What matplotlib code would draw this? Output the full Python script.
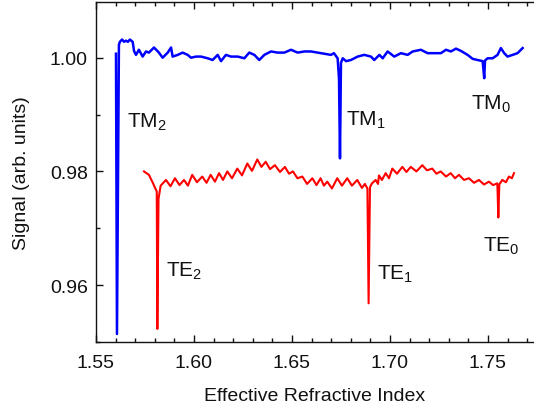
import matplotlib
matplotlib.use("Agg")
import matplotlib.pyplot as plt
from matplotlib.ticker import MultipleLocator

plt.rcParams['font.family'] = ['Liberation Sans', 'DejaVu Sans']
plt.rcParams['mathtext.fontset'] = 'custom'
plt.rcParams['mathtext.rm'] = 'Liberation Sans'
plt.rcParams['mathtext.it'] = 'Liberation Sans'
plt.rcParams['mathtext.default'] = 'regular'

# TM (blue) spectrum
tm_x = [1.5602, 1.5607, 1.5617, 1.5622, 1.5633, 1.5643, 1.5653, 1.5663, 1.5673, 1.5687,
        1.5694, 1.5704, 1.5719, 1.5738, 1.5755, 1.5770, 1.5796, 1.5821, 1.5840, 1.5866,
        1.5883, 1.5891, 1.5917, 1.5942, 1.5968, 1.5985, 1.6010, 1.6036, 1.6070, 1.6095,
        1.6121, 1.6138, 1.6163, 1.6189, 1.6223, 1.6257, 1.6282, 1.6308, 1.6333, 1.6359,
        1.6393, 1.6427, 1.6461, 1.6495, 1.6529, 1.6563, 1.6597, 1.6631, 1.6648, 1.6699,
        1.6714, 1.6733, 1.6740, 1.6745, 1.6750, 1.6759, 1.6776, 1.6801, 1.6835, 1.6869,
        1.6903, 1.6920, 1.6946, 1.6963, 1.6988, 1.7022, 1.7056, 1.7090, 1.7116, 1.7158,
        1.7192, 1.7226, 1.7260, 1.7286, 1.7311, 1.7337, 1.7362, 1.7396, 1.7422, 1.7447,
        1.7473, 1.7481, 1.7485, 1.7498, 1.7524, 1.7549, 1.7566, 1.7583, 1.7600, 1.7626,
        1.7651, 1.7677]
tm_y = [1.0007, 0.9514, 1.0023, 1.0028, 1.0032, 1.0028, 1.0030, 1.0028, 1.0032, 1.0028,
        1.0012, 1.0005, 1.0014, 1.0002, 1.0011, 1.0009, 1.0018, 1.0009, 1.0000, 1.0009,
        1.0018, 1.0002, 1.0005, 1.0009, 1.0005, 1.0000, 1.0002, 1.0002, 0.9999, 0.9996,
        1.0005, 0.9994, 1.0005, 1.0002, 1.0002, 0.9999, 1.0009, 1.0005, 0.9996, 1.0005,
        1.0011, 1.0009, 1.0009, 1.0014, 1.0009, 1.0011, 1.0011, 1.0009, 1.0008, 1.0005,
        1.0008, 0.9999, 0.9963, 0.9823, 0.9991, 0.9999, 0.9994, 0.9996, 1.0002, 1.0005,
        1.0002, 0.9996, 1.0005, 0.9999, 1.0011, 1.0002, 1.0008, 1.0005, 1.0011, 1.0014,
        1.0008, 1.0008, 1.0008, 1.0014, 1.0011, 1.0016, 1.0012, 1.0005, 0.9998, 0.9996,
        0.9994, 0.9964, 0.9995, 0.9999, 0.9999, 1.0005, 1.0017, 1.0008, 1.0002, 1.0005,
        1.0008, 1.0017]

# TE (red) spectrum
te_x = [1.5745, 1.5770, 1.5790, 1.5800, 1.5810, 1.5813, 1.5819, 1.5830, 1.5857, 1.5880,
        1.5903, 1.5926, 1.5949, 1.5969, 1.5991, 1.6015, 1.6042, 1.6064, 1.6085, 1.6107,
        1.6128, 1.6148, 1.6170, 1.6194, 1.6221, 1.6245, 1.6272, 1.6296, 1.6323, 1.6344,
        1.6366, 1.6388, 1.6413, 1.6439, 1.6464, 1.6485, 1.6505, 1.6528, 1.6553, 1.6577,
        1.6604, 1.6625, 1.6646, 1.6663, 1.6680, 1.6704, 1.6731, 1.6755, 1.6782, 1.6806,
        1.6833, 1.6857, 1.6872, 1.6885, 1.6891, 1.6898, 1.6908, 1.6927, 1.6939, 1.6944,
        1.6959, 1.6978, 1.6995, 1.7012, 1.7036, 1.7063, 1.7084, 1.7106, 1.7135, 1.7165,
        1.7189, 1.7216, 1.7237, 1.7259, 1.7286, 1.7310, 1.7332, 1.7352, 1.7378, 1.7403,
        1.7429, 1.7454, 1.7480, 1.7505, 1.7526, 1.7548, 1.7553, 1.7558, 1.7573, 1.7592,
        1.7607, 1.7622, 1.7633]
te_y = [0.9800, 0.9794, 0.9780, 0.9772, 0.9765, 0.9523, 0.9752, 0.9775, 0.9785, 0.9774,
        0.9788, 0.9776, 0.9785, 0.9775, 0.9794, 0.9781, 0.9791, 0.9780, 0.9794, 0.9782,
        0.9797, 0.9785, 0.9800, 0.9788, 0.9805, 0.9793, 0.9814, 0.9801, 0.9821, 0.9808,
        0.9817, 0.9804, 0.9811, 0.9799, 0.9808, 0.9796, 0.9800, 0.9788, 0.9791, 0.9778,
        0.9788, 0.9776, 0.9788, 0.9775, 0.9782, 0.9770, 0.9788, 0.9775, 0.9788, 0.9775,
        0.9785, 0.9771, 0.9778, 0.9770, 0.9568, 0.9772, 0.9779, 0.9785, 0.9778, 0.9793,
        0.9785, 0.9797, 0.9788, 0.9805, 0.9796, 0.9808, 0.9799, 0.9808, 0.9800, 0.9811,
        0.9802, 0.9805, 0.9796, 0.9800, 0.9791, 0.9797, 0.9788, 0.9794, 0.9785, 0.9788,
        0.9780, 0.9785, 0.9777, 0.9782, 0.9776, 0.9779, 0.9719, 0.9777, 0.9785, 0.9781,
        0.9791, 0.9788, 0.9797]

labels = [r'TM$_2$', r'TM$_1$', r'TM$_0$', r'TE$_2$', r'TE$_1$', r'TE$_0$']
label_x = [1.5658, 1.6776, 1.7413, 1.5857, 1.6934, 1.7473]
label_y = [0.98784, 0.98825, 0.99105, 0.96163, 0.96105, 0.96609]

fig = plt.figure(figsize=(5.34, 4.10), dpi=100)
ax = fig.add_axes([96/534, 1-343/410, (534-96)/534, 340/410])

ax.plot(tm_x, tm_y, color='#0000ff', lw=1.8)
ax.plot(te_x, te_y, color='#ff0000', lw=1.5)

for t, x, y in zip(labels, label_x, label_y):
    ax.text(x, y, t, fontsize=15, ha='left', va='baseline', color='#111111')

ax.set_xlim(1.55, 1.7735)
ax.set_ylim(0.95, 1.0098)
ax.xaxis.set_major_locator(MultipleLocator(0.05))
ax.xaxis.set_minor_locator(MultipleLocator(0.01))
ax.yaxis.set_major_locator(MultipleLocator(0.02))
ax.yaxis.set_minor_locator(MultipleLocator(0.01))
ax.xaxis.set_major_formatter(plt.FormatStrFormatter('%.2f'))
ax.yaxis.set_major_formatter(plt.FormatStrFormatter('%.2f'))
ax.tick_params(which='both', direction='in', top=True, right=False, labelsize=14,
               width=1, colors='#111111')
ax.tick_params(axis='x', which='major', pad=9)
ax.tick_params(axis='y', which='major', pad=6)
ax.tick_params(which='major', length=5)
ax.tick_params(which='minor', length=3)
ax.spines['right'].set_visible(False)
for s in ['left', 'bottom', 'top']:
    ax.spines[s].set_linewidth(1)
    ax.spines[s].set_color('#111111')

ax.set_xlabel('Effective Refractive Index', fontsize=14, labelpad=11, color='#111111')
ax.set_ylabel('Signal (arb. units)', fontsize=14, labelpad=14, color='#111111')

fig.savefig('out.png', dpi=100)
